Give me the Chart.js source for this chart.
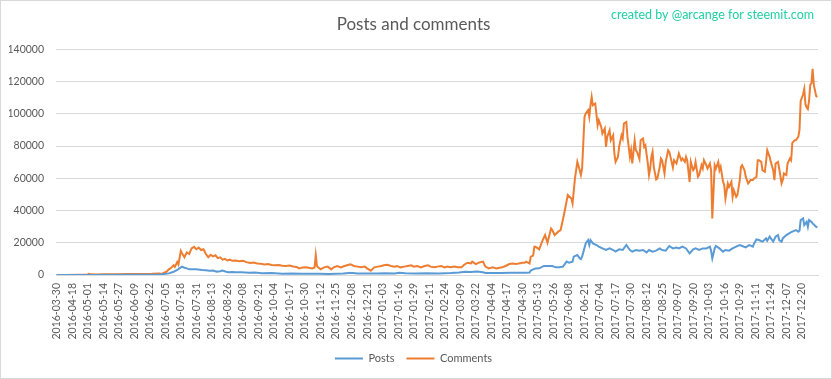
<!DOCTYPE html>
<html><head><meta charset="utf-8">
<script src="https://cdn.jsdelivr.net/npm/chart.js@4.4.1/dist/chart.umd.min.js"></script>
<style>html,body{margin:0;padding:0;background:#fff;} #wrap{position:relative;width:832px;height:379px;}</style>
</head><body><div id="wrap"><canvas id="c" width="832" height="379" style="width:832px;height:379px"></canvas></div>
<script>
const chartTitle = 'Posts and comments';
const creditText = 'created by @arcange for steemit.com';
const seriesNames = ['Posts', 'Comments'];
const tickLabels = ['2016-03-30','2016-04-18','2016-05-01','2016-05-14','2016-05-27','2016-06-09','2016-06-22','2016-07-05','2016-07-18','2016-07-31','2016-08-13','2016-08-26','2016-09-08','2016-09-21','2016-10-04','2016-10-17','2016-10-30','2016-11-12','2016-11-25','2016-12-08','2016-12-21','2017-01-03','2017-01-16','2017-01-29','2017-02-11','2017-02-24','2017-03-09','2017-03-22','2017-04-04','2017-04-17','2017-04-30','2017-05-13','2017-05-26','2017-06-08','2017-06-21','2017-07-04','2017-07-17','2017-07-30','2017-08-12','2017-08-25','2017-09-07','2017-09-20','2017-10-03','2017-10-16','2017-10-29','2017-11-11','2017-11-24','2017-12-07','2017-12-20'];
const dayCount = 638;
const daysPerTick = 13;
// [day index, value]
const posts = [[0,0],[30,50],[60,100],[85,200],[88,400],[91,700],[94,1000],[98,2000],[101,3100],[104,4750],[105,5200],[107,4500],[109,4100],[111,3500],[114,3600],[117,3500],[120,3300],[122,3100],[125,2900],[128,2700],[131,2800],[134,2100],[137,2300],[139,2700],[142,2000],[144,1650],[147,1800],[150,1650],[155,1700],[161,1450],[166,1500],[172,1030],[180,1200],[189,830],[197,900],[205,830],[212,700],[220,700],[228,620],[240,900],[245,1300],[248,1200],[252,900],[260,1000],[268,900],[275,1100],[283,1000],[287,1400],[292,1100],[300,1000],[310,1100],[320,1000],[330,1200],[337,1600],[342,2000],[347,1800],[352,2100],[357,1700],[359,1300],[365,1200],[372,1300],[380,1400],[387,1450],[393,1450],[396,1500],[397,2800],[399,3500],[401,4000],[404,4130],[408,5600],[412,5600],[415,5600],[418,4750],[421,4800],[424,5200],[427,8300],[429,7600],[432,8300],[433,11400],[436,12400],[438,10300],[439,9900],[440,11400],[443,19600],[445,21700],[446,18600],[447,21700],[449,19600],[452,18600],[454,17600],[457,16500],[460,15500],[463,16500],[466,15500],[468,14500],[471,15900],[474,15500],[477,18600],[480,15500],[482,14500],[485,15500],[488,15100],[491,15500],[494,14000],[496,15500],[499,14500],[502,15100],[505,16500],[507,15500],[510,15100],[513,18000],[516,16500],[519,17100],[521,16500],[524,17600],[527,16500],[530,13400],[533,15900],[535,16500],[538,15500],[541,16500],[544,16500],[547,17600],[548,15100],[549,10300],[551,16500],[552,18000],[555,16500],[558,14500],[560,15500],[563,15100],[566,16500],[569,17600],[572,18600],[574,18000],[577,17100],[580,18600],[583,17600],[584,19600],[586,22100],[588,21700],[591,20700],[594,22700],[595,21300],[597,23800],[600,20700],[602,23800],[604,24800],[605,21700],[607,20700],[608,22700],[611,24800],[614,26200],[616,26900],[619,27900],[621,26900],[622,27500],[623,34100],[625,35100],[626,31000],[628,33000],[629,29900],[630,34100],[632,33000],[633,32000],[636,29900],[637,29500]];
const comments = [[0,0],[8,50],[18,100],[26,200],[27,700],[29,400],[33,300],[40,500],[50,450],[60,600],[70,550],[80,700],[86,900],[88,700],[90,1500],[92,2000],[94,3500],[96,4500],[98,6000],[99,5000],[101,8000],[102,6500],[104,15000],[105,13500],[107,11000],[109,14000],[111,13000],[113,16500],[115,17500],[117,16000],[119,17000],[121,15500],[123,16000],[125,13000],[127,11000],[129,12500],[131,11500],[133,12200],[135,10500],[137,11000],[139,9500],[141,10000],[143,9000],[145,9500],[147,8800],[150,9000],[153,8500],[156,8800],[159,8000],[162,7500],[165,7800],[168,7200],[171,7000],[174,6500],[177,6800],[180,6200],[183,6000],[186,6200],[189,5800],[192,5600],[195,5900],[198,5300],[201,5000],[203,4100],[206,4600],[209,4750],[212,4300],[214,4100],[216,4700],[217,12400],[218,5500],[219,4750],[221,3500],[224,4750],[227,5200],[230,3500],[232,4750],[235,5600],[238,4750],[241,5600],[244,6200],[246,6600],[249,5600],[252,5200],[255,4750],[258,5200],[260,4100],[263,2700],[266,4750],[269,5200],[272,5600],[274,6000],[277,6400],[280,5600],[283,5200],[285,5600],[288,4750],[291,5200],[294,5600],[297,6000],[299,5200],[302,5600],[305,4750],[308,5600],[311,6000],[313,5200],[316,4750],[319,5200],[322,5600],[325,4750],[327,5200],[330,4750],[333,5200],[336,4750],[339,4750],[341,6200],[344,7600],[347,7200],[348,8300],[351,6800],[354,7800],[357,8300],[359,5200],[362,4100],[365,4750],[368,4100],[371,4500],[373,4750],[376,5600],[379,6800],[382,7200],[385,6800],[387,7200],[390,7600],[392,7600],[393,8300],[396,7200],[397,11400],[399,12000],[400,17500],[401,17500],[403,16500],[404,15900],[407,21700],[409,24800],[411,20000],[414,28900],[415,27900],[417,24800],[420,26900],[422,27900],[425,38200],[428,49600],[431,47500],[432,44400],[434,59900],[436,70200],[438,65000],[439,62000],[440,66100],[442,98100],[443,100200],[445,102200],[446,98100],[447,105300],[448,110500],[449,105300],[451,106400],[453,92900],[454,96000],[456,91900],[457,87800],[459,90900],[460,79500],[461,85700],[463,89800],[464,83600],[466,86700],[467,75400],[468,70200],[470,73300],[471,79500],[473,86700],[474,84700],[475,94000],[477,95000],[478,85700],[480,73300],[481,77400],[482,69200],[484,83600],[485,77400],[486,76400],[488,72000],[489,83600],[491,84700],[492,79500],[493,80500],[495,69200],[496,62000],[497,66100],[498,73300],[499,76400],[500,67100],[502,59300],[503,59900],[505,67100],[506,72300],[507,71200],[509,63000],[510,70200],[512,77400],[513,76400],[514,73300],[516,66700],[517,71200],[519,69200],[520,72300],[521,75400],[523,71200],[524,72300],[526,70200],[527,73300],[528,71200],[530,57800],[531,70200],[533,65000],[534,66100],[535,70200],[537,60900],[538,62000],[540,68100],[541,66100],[542,71200],[544,68100],[545,66100],[547,69200],[548,65000],[549,35100],[551,68100],[552,66100],[554,70200],[555,65000],[556,67100],[558,57800],[559,55800],[560,47500],[562,56800],[563,54700],[565,57800],[566,48500],[567,52700],[569,48500],[570,49600],[572,58900],[573,67100],[574,68100],[576,65000],[577,61000],[579,56800],[580,57800],[581,58900],[583,58900],[584,59900],[586,60900],[587,71200],[588,71200],[590,70200],[591,65000],[593,64000],[594,70200],[595,77400],[597,73300],[598,70200],[600,65000],[601,58900],[602,69200],[604,70200],[605,66100],[607,56800],[608,58900],[609,63000],[611,62000],[612,69200],[614,72300],[615,71200],[616,82000],[618,83600],[619,83600],[621,85700],[622,90000],[623,108000],[625,112000],[626,115500],[627,106000],[628,104000],[629,103000],[630,108000],[631,118000],[632,119000],[633,128000],[634,118000],[636,111000],[637,110500]];
const yTicks = [0,20000,40000,60000,80000,100000,120000,140000];

const FONT = 'Lato';
const TXT = '#595959';
const toPts = arr => arr.map(p => ({x: p[0], y: p[1]}));

const framePlugin = {
  id: 'frame',
  afterDraw(chart) {
    const ctx = chart.ctx;
    ctx.save();
    ctx.strokeStyle = '#d9d9d9';
    ctx.lineWidth = 1;
    ctx.strokeRect(0.5, 0.5, chart.width - 1, chart.height - 1);
    ctx.font = '12.5px ' + FONT;
    ctx.fillStyle = '#22cfa6';
    ctx.textAlign = 'right';
    ctx.textBaseline = 'middle';
    ctx.fillText(creditText, 814, 15);
    ctx.restore();
  }
};

new Chart(document.getElementById('c'), {
  type: 'line',
  data: {
    datasets: [
      {label: seriesNames[0], data: toPts(posts), borderColor: '#5b9bd5', backgroundColor: '#5b9bd5', borderWidth: 2, pointRadius: 0, pointStyle: 'line', tension: 0},
      {label: seriesNames[1], data: toPts(comments), borderColor: '#ed7d31', backgroundColor: '#ed7d31', borderWidth: 2, pointRadius: 0, pointStyle: 'line', tension: 0}
    ]
  },
  options: {
    responsive: false,
    animation: false,
    layout: {padding: {left: 9, right: 14, top: 0, bottom: 5}},
    plugins: {
      title: {display: true, text: chartTitle, color: TXT, font: {family: FONT, size: 17, weight: 'normal'}, padding: {top: 14, bottom: 15}},
      legend: {position: 'bottom', labels: {usePointStyle: true, pointStyleWidth: 28, color: TXT, font: {family: FONT, size: 11}, padding: 12}},
      tooltip: {enabled: false}
    },
    scales: {
      x: {
        type: 'linear', min: -0.5, max: dayCount - 0.5,
        afterBuildTicks: s => { s.ticks = tickLabels.map((_, k) => ({value: k * daysPerTick})); },
        afterFit: s => { s.height = 66; },
        ticks: {autoSkip: false, minRotation: 90, maxRotation: 90, color: TXT, font: {family: FONT, size: 10.5}, padding: 8,
          callback: (v, i) => tickLabels[i]},
        grid: {display: false, drawTicks: false},
        border: {display: true, color: '#d9d9d9'}
      },
      y: {
        min: 0, max: 140000,
        afterBuildTicks: s => { s.ticks = yTicks.map(v => ({value: v})); },
        afterFit: s => { s.width = 47; },
        ticks: {color: TXT, font: {family: FONT, size: 10.5}, padding: 12, callback: v => String(v)},
        grid: {color: '#d9d9d9', drawTicks: false},
        border: {display: false}
      }
    }
  },
  plugins: [framePlugin]
});
</script>
</body></html>
